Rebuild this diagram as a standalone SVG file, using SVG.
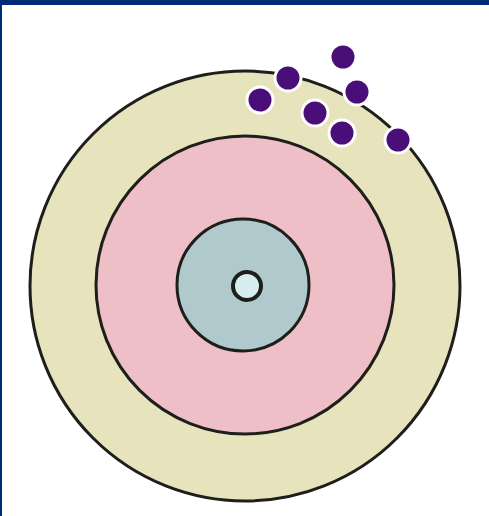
<svg xmlns="http://www.w3.org/2000/svg" width="489" height="516" viewBox="0 0 489 516">
<style>
.ring{stroke:#1e1e1a;stroke-width:3}
.dot{fill:#4a0e78;stroke:#ffffff;stroke-width:3}
</style>
<rect x="0" y="0" width="489" height="516" fill="#ffffff"/>
<rect x="0" y="0" width="489" height="5" fill="#002a78"/>
<rect x="0" y="0" width="2" height="516" fill="#002a78"/>
<g id="outer-shell"><circle class="ring" cx="245" cy="286" r="215" fill="#e6e3bd"/></g>
<g id="middle-shell"><circle class="ring" cx="245" cy="285" r="149" fill="#efbfc7"/></g>
<g id="inner-shell"><circle class="ring" cx="243" cy="285" r="66" fill="#b0c9cd"/></g>
<g id="nucleus"><circle cx="247" cy="286" r="14" fill="#d6efee" stroke="#1e1e1a" stroke-width="4"/></g>
<g id="electrons">
<circle class="dot" cx="343" cy="57" r="13"/>
<circle class="dot" cx="288" cy="78" r="13"/>
<circle class="dot" cx="260" cy="100" r="13"/>
<circle class="dot" cx="357" cy="92" r="13"/>
<circle class="dot" cx="315" cy="113" r="13"/>
<circle class="dot" cx="342" cy="133" r="13"/>
<circle class="dot" cx="398" cy="140" r="13"/>
</g>
</svg>
